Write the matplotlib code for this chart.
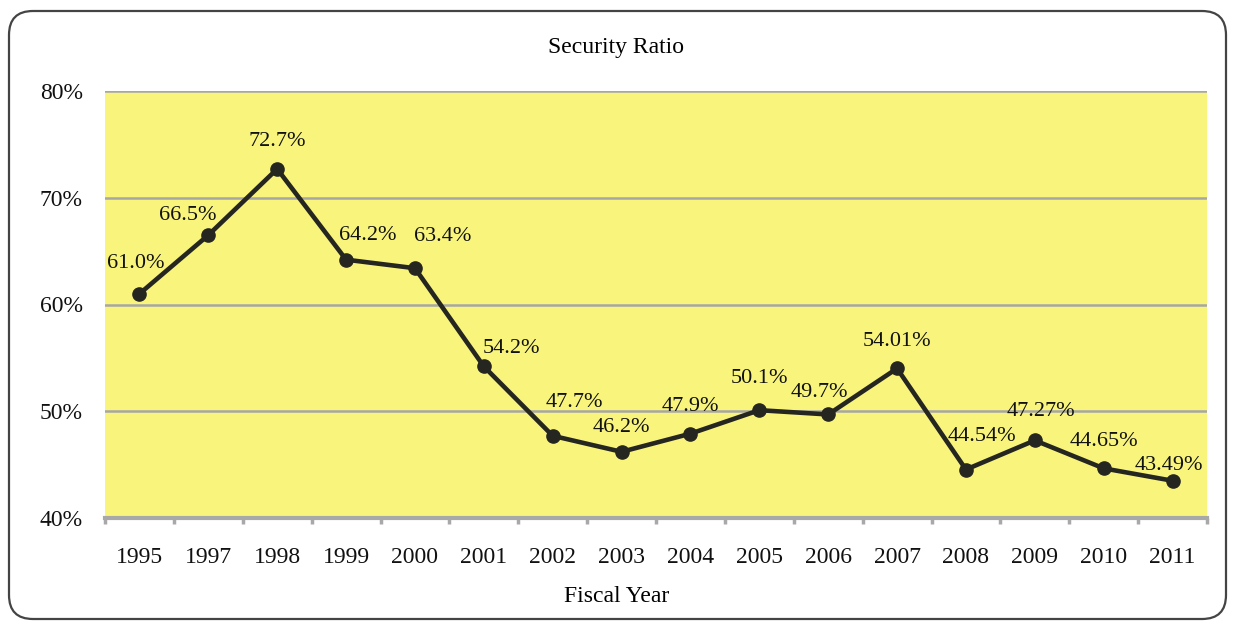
import matplotlib.pyplot as plt
from matplotlib.patches import FancyBboxPatch
from matplotlib.ticker import FixedLocator

years = ["1995", "1997", "1998", "1999", "2000", "2001", "2002", "2003",
         "2004", "2005", "2006", "2007", "2008", "2009", "2010", "2011"]
ratio = [61.0, 66.5, 72.7, 64.2, 63.4, 54.2, 47.7, 46.2,
         47.9, 50.1, 49.7, 54.01, 44.54, 47.27, 44.65, 43.49]
labels = ["61.0%", "66.5%", "72.7%", "64.2%", "63.4%", "54.2%", "47.7%", "46.2%",
          "47.9%", "50.1%", "49.7%", "54.01%", "44.54%", "47.27%", "44.65%", "43.49%"]
yticks = [40, 50, 60, 70, 80]

# label offsets in pixels (dx, dy)
offs = [(-4, 30), (-21, 20), (0, 27), (22, 24), (28, 32), (28, 18), (22, 33), (0, 24),
        (0, 27), (0, 32), (-9, 22), (0, 27), (16, 33), (6, 29), (0, 27), (-4, 15)]

plt.rcParams['font.family'] = ['Liberation Serif', 'DejaVu Serif']

fig = plt.figure(figsize=(12.33, 6.23), dpi=100)

# background axes in pixel units for the rounded frame
bg = fig.add_axes([0, 0, 1, 1], zorder=-1)
bg.set_xlim(0, 1233)
bg.set_ylim(0, 623)
bg.axis("off")
bg.add_patch(FancyBboxPatch((9, 4), 1217, 608, boxstyle="round,pad=0,rounding_size=24",
                            facecolor="none", edgecolor="#444444", linewidth=1.6))

ax = fig.add_axes([105/1233, 1-518/623, 1102/1233, 427/623])
ax.set_facecolor("#f9f57c")

x = list(range(len(years)))
ax.plot(x, ratio, color="#262621", linewidth=3.3, marker="o", markersize=9.5, zorder=3)

for i in range(len(x)):
    ax.annotate(labels[i], (x[i], ratio[i]), xytext=offs[i], textcoords="offset pixels",
                ha="center", va="center", fontsize=16, color="#111111", zorder=4)

ax.set_xlim(-0.5, len(years) - 0.5)
ax.set_ylim(40, 80)
ax.set_yticks(yticks)
ax.set_yticklabels([str(v) + "%" for v in yticks])
ax.set_xticks(x)
ax.set_xticklabels(years)
ax.xaxis.set_minor_locator(FixedLocator([i - 0.5 for i in range(len(years) + 1)]))

ax.grid(axis="y", color="#a6a6a6", linewidth=1.8)
ax.set_axisbelow(True)
for s in ["top", "right", "left"]:
    ax.spines[s].set_visible(False)
ax.spines["bottom"].set_color("#a8a8a8")
ax.spines["bottom"].set_linewidth(3)

ax.tick_params(axis="y", length=0, pad=16, labelsize=17, labelcolor="#111111")
ax.tick_params(axis="x", which="major", length=0, pad=21, labelsize=17, labelcolor="#111111")
ax.tick_params(axis="x", which="minor", length=4, width=2.5, color="#a8a8a8")

fig.text(0.5, 1 - 47/623, "Security Ratio", ha="center", va="center", fontsize=17)
fig.text(0.5, 1 - 597/623, "Fiscal Year", ha="center", va="center", fontsize=17)

plt.savefig("out.png", dpi=100)
